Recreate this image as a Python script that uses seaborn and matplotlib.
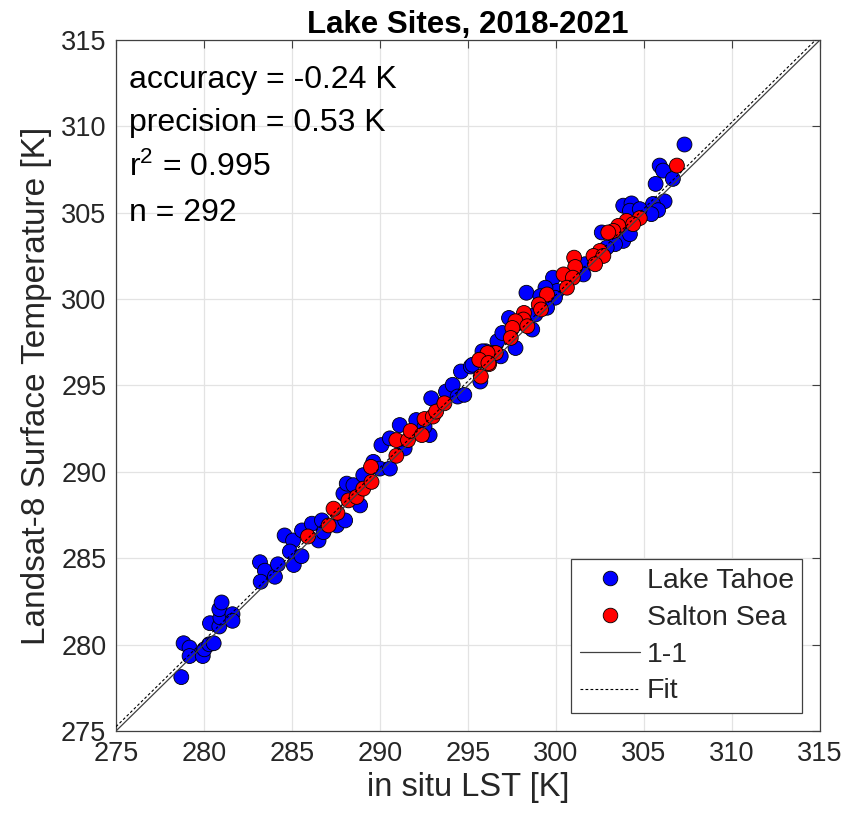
import numpy as np
import pandas as pd
import matplotlib
matplotlib.use("Agg")
import matplotlib.pyplot as plt
import seaborn as sns
from matplotlib.lines import Line2D

# ---- data ----
tahoe_insitu = [278.71, 278.84, 279.18, 279.18, 279.93, 280.02, 280.30, 280.55, 280.34, 280.87,
                280.93, 280.87, 281.00, 281.62, 281.62, 283.18, 283.46, 283.22, 284.03, 284.20,
                285.10, 284.58, 285.06, 284.88, 285.54, 285.57, 286.13, 286.51, 286.79, 287.55,
                288.02, 287.92, 288.11, 288.87, 286.70, 288.49, 289.05, 289.62, 289.99, 290.56,
                290.08, 290.56, 291.40, 291.12, 292.06, 292.82, 292.53, 292.91, 293.75, 294.13,
                294.41, 294.79, 294.60, 295.16, 295.70, 296.01, 296.67, 296.86, 307.30, 305.89,
                306.08, 306.64, 305.66, 306.17, 305.51, 305.80, 305.42, 303.82, 304.29, 304.20,
                304.76, 302.60, 303.82, 304.20, 303.35, 302.88, 301.65, 301.56, 299.83, 300.06,
                299.40, 298.32, 299.11, 299.94, 299.49, 298.83, 297.33, 298.65, 296.95, 297.70,
                295.82, 295.26]
tahoe_l8 = [278.12, 280.08, 279.83, 279.34, 279.34, 279.73, 280.02, 280.08, 281.24, 281.05,
            281.57, 282.05, 282.44, 281.76, 281.38, 284.77, 284.28, 283.64, 283.93, 284.65,
            284.61, 286.32, 286.03, 285.39, 285.12, 286.61, 287.00, 286.03, 286.51, 286.90,
            287.19, 288.74, 289.32, 288.06, 287.19, 289.23, 289.81, 290.58, 290.19, 290.19,
            291.55, 291.94, 291.36, 292.71, 293.00, 292.13, 292.62, 294.26, 294.65, 295.04,
            294.36, 294.46, 295.81, 296.10, 295.23, 296.98, 297.56, 296.69, 308.95, 307.73,
            307.44, 306.96, 306.67, 305.66, 305.51, 305.15, 304.92, 305.41, 305.54, 305.12,
            305.21, 303.86, 303.37, 303.76, 303.18, 302.98, 302.02, 301.43, 301.24, 300.47,
            300.66, 300.37, 300.17, 300.08, 299.50, 299.11, 298.91, 298.24, 298.04, 297.17,
            296.98, 296.20]

salton_insitu = [285.91, 287.08, 287.58, 287.36, 288.21, 288.67, 289.05, 289.52, 289.49, 290.93,
                 290.93, 291.59, 291.74, 292.38, 292.53, 293.00, 293.19, 293.66, 295.73, 295.69,
                 296.20, 296.48, 306.87, 304.76, 304.01, 304.38, 303.54, 303.26, 302.97, 302.50,
                 302.13, 302.69, 302.22, 301.03, 301.09, 300.43, 300.96, 300.62, 299.49, 299.02,
                 299.15, 298.18, 298.15, 297.70, 298.37, 297.52, 297.43, 296.58, 296.11, 295.64,
                 296.16]
salton_l8 = [286.26, 286.90, 287.63, 287.87, 288.35, 288.55, 289.03, 289.42, 290.29, 290.93,
             291.84, 291.84, 292.37, 292.13, 293.06, 293.20, 293.49, 293.97, 295.52, 296.49,
             296.24, 296.88, 307.73, 304.69, 304.53, 304.34, 304.24, 303.95, 303.86, 302.79,
             302.50, 302.50, 302.02, 302.40, 301.86, 301.43, 301.24, 300.66, 300.27, 299.69,
             299.40, 299.20, 298.82, 298.72, 298.43, 298.33, 297.75, 296.88, 296.88, 296.49,
             296.30]

sites = ["Lake Tahoe", "Salton Sea"]
site_colors = ["#0000FF", "#FF0000"]
axis_limits = [275, 315]
tick_values = [275, 280, 285, 290, 295, 300, 305, 310, 315]
fit_slope = 1.0
fit_intercept = 0.25
stats_lines = ["accuracy = -0.24 K", "precision = 0.53 K", "r$^2$ = 0.995", "n = 292"]
stats_y = [312.68, 310.19, 307.65, 304.98]

df = pd.DataFrame({
    "insitu": tahoe_insitu + salton_insitu,
    "l8": tahoe_l8 + salton_l8,
    "site": [sites[0]] * len(tahoe_insitu) + [sites[1]] * len(salton_insitu),
})

sns.set_theme(style="white")
plt.rcParams["font.family"] = ["Liberation Sans", "DejaVu Sans"]
plt.rcParams["mathtext.fontset"] = "custom"
plt.rcParams["mathtext.rm"] = "Liberation Sans"
plt.rcParams["mathtext.it"] = "Liberation Sans"

txt = "#262626"
fig = plt.figure(figsize=(8.59, 8.19), dpi=100)
ax = fig.add_axes([116 / 859, 1 - 731 / 819, 704 / 859, 691 / 819])

sns.scatterplot(data=df, x="insitu", y="l8", hue="site", hue_order=sites,
                palette=dict(zip(sites, site_colors)), s=115, edgecolor="black",
                linewidth=0.6, alpha=1, legend=False, ax=ax, zorder=3)

xl = np.array(axis_limits, dtype=float)
ax.plot(xl, xl, color="#404040", lw=0.9, zorder=4)
ax.plot(xl, fit_slope * xl + fit_intercept, color="black", lw=0.8, ls=(0, (2.5, 2)), zorder=4)

ax.set_xlim(axis_limits)
ax.set_ylim(axis_limits)
ax.set_xticks(tick_values)
ax.set_yticks(tick_values)
ax.grid(True, color="#e3e3e3", lw=0.9)
ax.set_axisbelow(True)
ax.tick_params(direction="in", length=6, width=0.8, colors="#404040", labelcolor=txt,
               labelsize=19.5, top=True, right=True, pad=7)
for sp in ax.spines.values():
    sp.set_color("#404040")
    sp.set_linewidth(0.9)

ax.set_xlabel("in situ LST [K]", fontsize=23.5, color=txt, labelpad=4)
ax.set_ylabel("Landsat-8 Surface Temperature [K]", fontsize=24, color=txt, labelpad=6)
ax.set_title("Lake Sites, 2018-2021", fontsize=22.5, fontweight="bold", color="black", pad=5)

for s, yv in zip(stats_lines, stats_y):
    ax.text(275.74, yv, s, fontsize=23, color="black", va="center", ha="left", zorder=5)

handles = [
    Line2D([], [], ls="none", marker="o", markersize=10.5, markerfacecolor=site_colors[0],
           markeredgecolor="black", markeredgewidth=0.6),
    Line2D([], [], ls="none", marker="o", markersize=10.5, markerfacecolor=site_colors[1],
           markeredgecolor="black", markeredgewidth=0.6),
    Line2D([], [], color="#404040", lw=0.9),
    Line2D([], [], color="black", lw=0.8, ls=(0, (2.5, 2))),
]
leg = ax.legend(handles, ["Lake Tahoe", "Salton Sea", "1-1", "Fit"], loc="lower right",
                bbox_to_anchor=(0.975, 0.026), borderaxespad=0, fontsize=20.5,
                frameon=True, fancybox=False, framealpha=1, edgecolor="#404040",
                handlelength=2.1, handletextpad=0.25, labelspacing=0.38, borderpad=0.3)
leg.get_frame().set_linewidth(0.9)

fig.savefig("out.png", dpi=100)
